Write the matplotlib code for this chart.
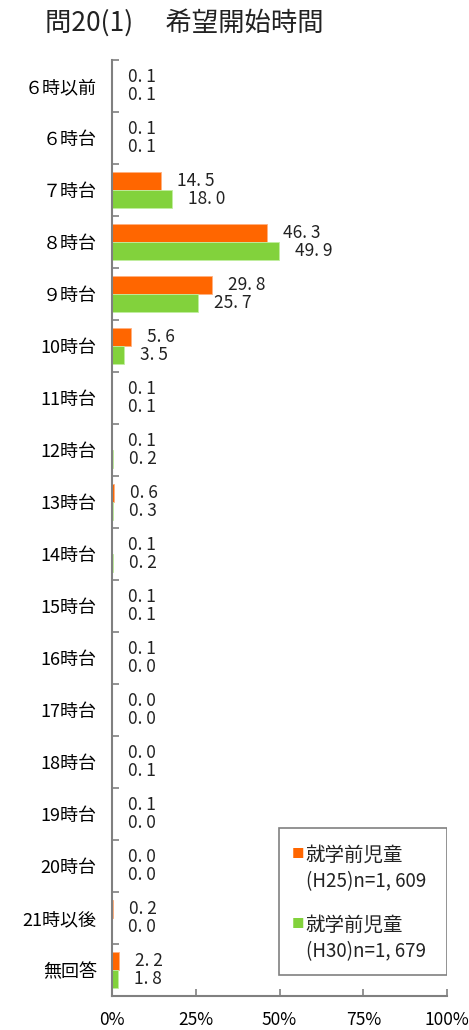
import matplotlib
matplotlib.use("Agg")
import matplotlib.pyplot as plt
import numpy as np
from matplotlib.patches import Rectangle

plt.rcParams['font.family'] = ['Noto Sans CJK JP', 'DejaVu Sans']

categories = ["６時以前", "６時台", "７時台", "８時台", "９時台", "10時台", "11時台", "12時台",
              "13時台", "14時台", "15時台", "16時台", "17時台", "18時台", "19時台", "20時台",
              "21時以後", "無回答"]
h25 = [0.1, 0.1, 14.5, 46.3, 29.8, 5.6, 0.1, 0.1, 0.6, 0.1, 0.1, 0.1, 0.0, 0.0, 0.1, 0.0, 0.2, 2.2]
h30 = [0.1, 0.1, 18.0, 49.9, 25.7, 3.5, 0.1, 0.2, 0.3, 0.2, 0.1, 0.0, 0.0, 0.1, 0.0, 0.0, 0.0, 1.8]
series_labels = ["就学前児童", "就学前児童"]
series_sub = ["(H25)n=1, 609", "(H30)n=1, 679"]
xticks = [0, 25, 50, 75, 100]
xticklabels = ["0%", "25%", "50%", "75%", "100%"]
title = "問20(1)　 希望開始時間"

c1 = "#FF6600"
c2 = "#82D23C"

fig = plt.figure(figsize=(4.69, 10.30), dpi=100)
ax = fig.add_axes([112/469, 1-996/1030, 335/469, 936/1030])

n = len(categories)
y = np.arange(n)
bh = 0.35
off = 0.175
ax.barh(y - off, h25, height=bh, color=c1, edgecolor="#FFB080", linewidth=0.6)
ax.barh(y + off, h30, height=bh, color=c2, edgecolor="#C0EEA0", linewidth=0.6)

def fmt(v):
    return f"{v:.1f}".replace(".", ". ")

for yi, v in zip(y, h25):
    ax.annotate(fmt(v), xy=(v, yi - off), xytext=(11.5, 0), textcoords="offset points",
                ha="left", va="center", fontsize=12.5, color="#222222")
for yi, v in zip(y, h30):
    ax.annotate(fmt(v), xy=(v, yi + off), xytext=(11.5, 0), textcoords="offset points",
                ha="left", va="center", fontsize=12.5, color="#222222")

ax.set_ylim(n - 0.5, -0.5)
ax.set_xlim(0, 100)
ax.set_yticks(y)
ax.set_yticklabels(categories, fontsize=13)
ax.tick_params(axis="y", which="major", length=0, pad=11)
ax.set_yticks(np.arange(-0.5, n, 1.0), minor=True)
ax.tick_params(axis="y", which="minor", direction="in", length=5, color="#808080", width=1.2)
ax.set_xticks(xticks)
ax.set_xticklabels(xticklabels, fontsize=12.5)
ax.tick_params(axis="x", direction="in", length=5, color="#808080", width=1.2, pad=11)

for s in ["top", "right"]:
    ax.spines[s].set_visible(False)
for s in ["left", "bottom"]:
    ax.spines[s].set_color("#808080")
    ax.spines[s].set_linewidth(1.5)

# legend box
def ay(py):
    return (996 - py) / 936
def axx(px):
    return (px - 112) / 335
ax.add_patch(Rectangle((axx(279), ay(975)), 1 - axx(279), ay(828) - ay(975),
                       transform=ax.transAxes, facecolor="white", edgecolor="#808080",
                       linewidth=1.2, zorder=5))
for i, (lab, sub, col) in enumerate(zip(series_labels, series_sub, [c1, c2])):
    y1 = 855 + i * 70
    ax.text(axx(292), ay(y1), "■", color=col, fontsize=9, va="center", ha="left",
            transform=ax.transAxes, zorder=6)
    ax.text(axx(305), ay(y1), lab, fontsize=14, va="center", ha="left",
            transform=ax.transAxes, zorder=6, color="#222222")
    ax.text(axx(306), ay(y1 + 27), sub, fontsize=13.5, va="center", ha="left",
            transform=ax.transAxes, zorder=6, color="#222222")

fig.text(45/469, 1 - 23/1030, title, fontsize=19, va="center", ha="left", color="#222222")

fig.savefig("out.png", dpi=100)
